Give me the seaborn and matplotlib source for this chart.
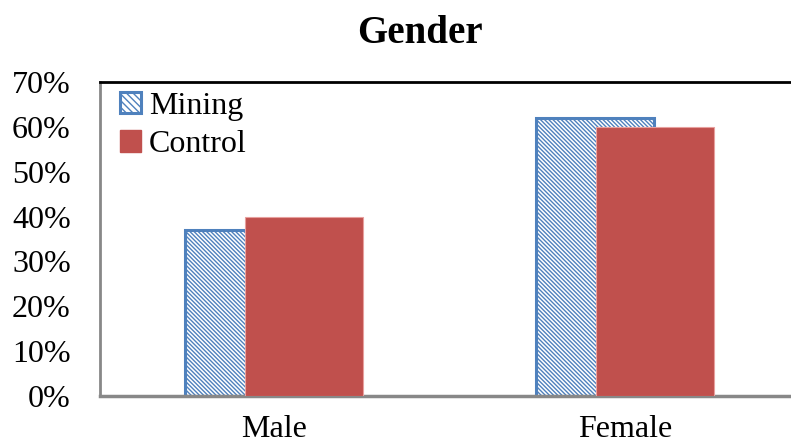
import numpy as np
import pandas as pd
import matplotlib
matplotlib.use('Agg')
import matplotlib.pyplot as plt
import seaborn as sns
from matplotlib.patches import Patch

# data
categories = ['Male', 'Female']
groups = ['Mining', 'Control']
mining = [37, 62]
control = [40, 60]
y_ticks = [0, 10, 20, 30, 40, 50, 60, 70]

df = pd.DataFrame({
    'gender': categories * 2,
    'group': [groups[0]] * 2 + [groups[1]] * 2,
    'pct': mining + control,
})

sns.set_style('white')
plt.rcParams['font.family'] = ['Liberation Serif', 'DejaVu Serif']
plt.rcParams['text.color'] = 'black'
plt.rcParams['xtick.color'] = 'black'
plt.rcParams['ytick.color'] = 'black'
plt.rcParams['hatch.linewidth'] = 1.0
plt.rcParams['hatch.color'] = '#4F81BD'

fig = plt.figure(figsize=(7.91, 4.45), dpi=100)
ax = fig.add_axes([0.1264, 0.110, 0.8736, 0.7057])

blue = '#4F81BD'
red = '#C0504D'
hatch = '\\' * 8
sns.barplot(data=df, x='gender', y='pct', hue='group', order=categories,
            hue_order=groups, dodge=False, width=0.336,
            palette={'Mining': 'white', 'Control': red}, ax=ax,
            legend=False, saturation=1)

# overlap the two series like the original: Mining left, Control shifted right
shift = 0.085
n = len(categories)
for i, p in enumerate(ax.patches[:2 * n]):
    if i < n:
        p.set_x(p.get_x() - shift)
        p.set_edgecolor(blue)
        p.set_linewidth(2.2)
        p.set_hatch(hatch)
        p.set_zorder(2)
    else:
        p.set_x(p.get_x() + shift)
        p.set_edgecolor('#E8A09E')
        p.set_linewidth(0.8)
        p.set_zorder(3)

ax.set_xlim(-0.4957, 1.473)
ax.set_ylim(0, 70)
ax.set_yticks(y_ticks)
ax.set_yticklabels([f'{t}%' for t in y_ticks])
ax.tick_params(axis='y', length=0, pad=21, labelsize=23)
ax.tick_params(axis='x', length=0, pad=14, labelsize=23)
ax.set_xlabel('')
ax.set_ylabel('')

for side in ['left', 'bottom']:
    ax.spines[side].set_color('#888888')
ax.spines['left'].set_linewidth(2)
ax.spines['bottom'].set_linewidth(2.5)
ax.spines['top'].set_color('black')
ax.spines['top'].set_linewidth(2)
ax.spines['right'].set_visible(False)

handles = [Patch(facecolor='white', edgecolor=blue, hatch='\\' * 5, linewidth=2.2),
           Patch(facecolor=red, edgecolor=red)]
ax.legend(handles, groups, loc='upper left', bbox_to_anchor=(0.015, 1.0),
          frameon=False, fontsize=23, handlelength=0.65, handleheight=0.65,
          handletextpad=0.25, labelspacing=0.3, borderaxespad=0.1,
          borderpad=0.2)

fig.text(0.531, 0.925, 'Gender', ha='center', va='center',
         fontsize=28, fontweight='bold')

fig.savefig('out.png', dpi=100, facecolor='white')
